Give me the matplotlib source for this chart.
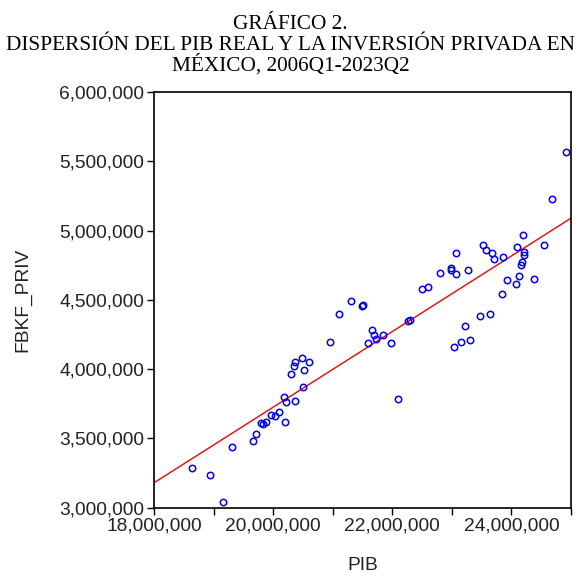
import numpy as np
import matplotlib.pyplot as plt
from matplotlib.ticker import FuncFormatter, MultipleLocator

# PIB real (x) vs inversión privada (y), trimestral 2006Q1-2023Q2
pib = [18.633, 18.935, 19.153, 19.304, 19.657, 19.717, 19.796, 19.835, 19.885, 19.956,
       20.031, 20.093, 20.207, 20.224, 20.370, 20.182, 20.501, 20.300, 20.513, 20.345,
       20.362, 20.484, 20.597, 20.955, 21.111, 21.312, 21.487, 21.503, 21.665, 21.688,
       21.732, 21.839, 21.592, 21.978, 22.096, 22.491, 22.600, 22.264, 22.301, 23.221,
       23.469, 23.154, 23.041, 23.310, 22.801, 23.066, 22.991, 22.991, 23.066, 23.279,
       23.526, 23.565, 23.679, 23.702, 23.862, 24.089, 24.191, 24.208, 24.206, 24.174,
       24.169, 24.539, 24.122, 23.929, 24.080, 24.376, 23.838, 23.644, 24.678, 24.911]
fbkf_priv = [3.288, 3.233, 3.041, 3.439, 3.478, 3.531, 3.610, 3.603, 3.620, 3.670,
             3.663, 3.689, 3.616, 3.760, 3.767, 3.800, 3.870, 3.965, 3.992, 4.026,
             4.055, 4.081, 4.048, 4.196, 4.396, 4.491, 4.458, 4.463, 4.286, 4.244,
             4.220, 4.244, 4.187, 4.192, 3.781, 4.576, 4.594, 4.349, 4.351, 4.314,
             4.380, 4.194, 4.161, 4.212, 4.696, 4.837, 4.729, 4.715, 4.685, 4.716,
             4.893, 4.862, 4.837, 4.798, 4.808, 4.880, 4.966, 4.844, 4.821, 4.772,
             4.751, 4.895, 4.671, 4.646, 4.612, 4.650, 4.545, 4.399, 5.229, 5.570]

x = np.array(pib) * 1e6
y = np.array(fbkf_priv) * 1e6

fig = plt.figure(figsize=(5.81, 5.85), dpi=100)
ax = fig.add_axes([154 / 581, 1 - 507.7 / 585, 417 / 581, 415.7 / 585])

ax.plot(x, y, 'o', mfc='none', mec='#0000ff', ms=4.6, mew=1.1, zorder=3)

# recta de regresion
b, a = np.polyfit(x, y, 1)
xs = np.array([18e6, 25e6])
ax.plot(xs, a + b * xs, color='red', lw=1.0, zorder=2)

ax.set_xlim(18e6, 25e6)
ax.set_ylim(3e6, 6e6)
ax.xaxis.set_major_locator(MultipleLocator(2e6))
ax.xaxis.set_minor_locator(MultipleLocator(1e6))
ax.yaxis.set_major_locator(MultipleLocator(5e5))
fmt = FuncFormatter(lambda v, p: f'{v:,.0f}')
ax.xaxis.set_major_formatter(fmt)
ax.yaxis.set_major_formatter(fmt)

ax.tick_params(which='both', direction='out', length=5, width=1, labelsize=13.8,
               colors='black', labelcolor='#222222', pad=2)
for s in ax.spines.values():
    s.set_linewidth(1.2)

ax.set_xlabel('PIB', fontsize=13.8, color='#222222', family='Liberation Sans')
ax.xaxis.set_label_coords(0.5, -0.118)
ax.set_ylabel('FBKF_PRIV', fontsize=13.8, color='#222222', family='Liberation Sans')
ax.yaxis.set_label_coords(-0.295, 0.5)
for lab in ax.get_xticklabels() + ax.get_yticklabels():
    lab.set_family('Liberation Sans')

titulo = ['GRÁFICO 2.',
          'DISPERSIÓN DEL PIB REAL Y LA INVERSIÓN PRIVADA EN',
          'MÉXICO, 2006Q1-2023Q2']
for i, linea in enumerate(titulo):
    fig.text(0.5, 1 - (29 + 21 * i) / 585, linea, ha='center', va='baseline',
             family='Liberation Serif', fontsize=15.3)

fig.savefig('out.png', dpi=100)
